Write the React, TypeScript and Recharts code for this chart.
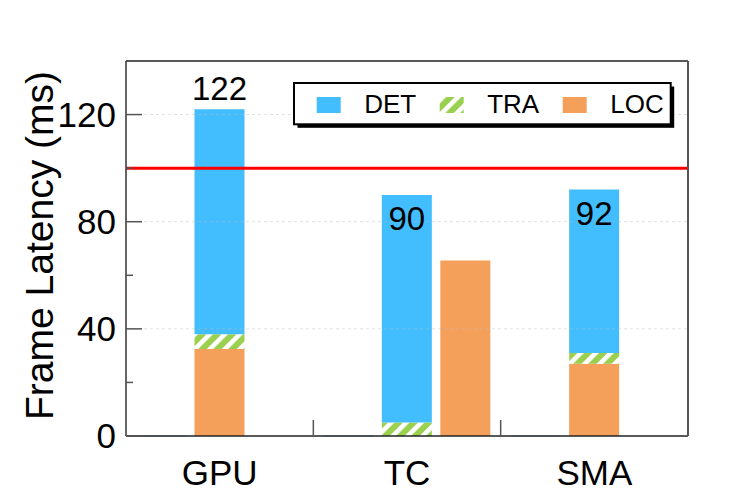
import React from 'react';
import { BarChart, Bar, XAxis, YAxis, ReferenceLine, Legend, LabelList } from 'recharts';

// values
const CATEGORIES = ['GPU', 'TC', 'SMA'];
const DET_SIDE = [0, 0, 0];
const LOC_STACK = [32.5, 0, 27];
const TRA_STACK = [5.5, 5, 4];
const DET_STACK = [84, 85, 61];
const LOC_SIDE = [0, 65.5, 0];
const TOTALS = [122, 90, 92];
const Y_TICKS = [0, 20, 40, 60, 80, 100, 120, 140];
const Y_LABELED = [0, 40, 80, 120];
const GRID_VALUES = [40, 80, 120];
const DEADLINE = 100;
const LEGEND_ITEMS = ['DET', 'TRA', 'LOC'];

// styling only
const LABEL_INSIDE = [false, true, true];
const DET_COLOR = '#42BEFF';
const TRA_COLOR = '#9BCF4F';
const LOC_COLOR = '#F4A05B';
const FONT = '"Liberation Sans", Arial, Helvetica, sans-serif';

const W = 739;
const H = 490;
const Y_AXIS_W = 118;
const X_AXIS_H = 62;
const MARGIN = { top: 52, right: 58, bottom: 0, left: 0 };
const PLOT_W = W - MARGIN.left - Y_AXIS_W - MARGIN.right - 1;
const BAND = PLOT_W / CATEGORIES.length;
const Y_TICK_MARGIN = 10;
const X_TICK_MARGIN = 24;

const data = CATEGORIES.map((name, i) => ({
  name,
  detSide: DET_SIDE[i],
  loc: LOC_STACK[i],
  tra: TRA_STACK[i],
  det: DET_STACK[i],
  locSide: LOC_SIDE[i],
  total: TOTALS[i],
}));

const Hatch = ({ id }: { id: string }) => (
  <pattern id={id} patternUnits="userSpaceOnUse" width={10.6} height={10.6} patternTransform="rotate(45)">
    <rect width={10.6} height={10.6} fill={TRA_COLOR} />
    <rect width={4.6} height={10.6} fill="#fff" />
  </pattern>
);

const YTick = ({ x, y, payload }: any) => {
  const v = payload.value;
  if (v === 140) return <g />;
  const major = Y_LABELED.includes(v);
  const x0 = x + Y_TICK_MARGIN;
  return (
    <g>
      <line x1={x0} x2={x0 + (major ? 16 : 7)} y1={y} y2={y} stroke="#555" strokeWidth={1.5} />
      {major && (
        <text x={x} y={y} dy="0.355em" textAnchor="end" fontSize={35} fill="#000" fontFamily={FONT}>
          {v}
        </text>
      )}
    </g>
  );
};

const XTick = ({ x, y, payload }: any) => {
  const i = CATEGORIES.indexOf(payload.value);
  const base = y - X_TICK_MARGIN;
  return (
    <g>
      {i < CATEGORIES.length - 1 && (
        <line x1={x + BAND / 2} x2={x + BAND / 2} y1={base} y2={base - 16} stroke="#555" strokeWidth={1.5} />
      )}
      <text x={x} y={y} dy="0.71em" textAnchor="middle" fontSize={35} fill="#000" fontFamily={FONT}>
        {payload.value}
      </text>
    </g>
  );
};

const YLabel = (props: any) => {
  const vb = props.viewBox || props;
  const cx = vb.x + 31;
  const cy = vb.y + vb.height / 2 - 3;
  return (
    <text x={cx} y={cy} dy="0.355em" textAnchor="middle" transform={`rotate(-90 ${cx} ${cy})`}
      fontSize={39} fill="#000" fontFamily={FONT}>
      Frame Latency (ms)
    </text>
  );
};

const TotalLabel = (props: any) => {
  const vb = props.viewBox || props;
  const { x, y, width } = vb;
  const inside = LABEL_INSIDE[props.index];
  const ty = inside ? y + 11 + 24 : y - 9.5;
  return (
    <text x={x + width / 2} y={ty} textAnchor="middle" fontSize={33} fill="#000" fontFamily={FONT}>
      {props.value}
    </text>
  );
};

const BaselineShape = (props: any) => {
  const { x, y, width, height } = props;
  const yb = y + (height || 0);
  return <line x1={x} x2={x + width} y1={yb} y2={yb} stroke="#8FCBE8" strokeWidth={1.2} />;
};

const FILLS: Record<string, string> = { DET: DET_COLOR, TRA: 'url(#traHatchLegend)', LOC: LOC_COLOR };

const LegendBox = () => (
  <svg width={384} height={48} style={{ overflow: 'visible', display: 'block' }}>
    <defs>
      <Hatch id="traHatchLegend" />
    </defs>
    <rect x={4.5} y={4.5} width={376.7} height={41.3} fill="#000" />
    <rect x={1} y={1} width={376.7} height={41.3} fill="#fff" stroke="#000" strokeWidth={2} />
    {LEGEND_ITEMS.map((name, i) => (
      <g key={name} transform={`translate(${23.7 + i * 123}, 0)`}>
        <rect x={0} y={15} width={24} height={16} fill={FILLS[name]} />
        <text x={47.5} y={31} fontSize={26} fill="#000" fontFamily={FONT}>
          {name}
        </text>
      </g>
    ))}
  </svg>
);

export default function App() {
  return (
    <div style={{ width: W, height: H, fontFamily: FONT, background: '#fff' }}>
      <BarChart width={W} height={H} data={data} margin={MARGIN} barCategoryGap={10} barGap={8.5}>
        <defs>
          <Hatch id="traHatch" />
        </defs>
        <XAxis dataKey="name" height={X_AXIS_H} interval={0} tickSize={0} tickLine={false}
          tickMargin={X_TICK_MARGIN} tick={<XTick />} axisLine={{ stroke: '#222', strokeWidth: 1.5 }} />
        <XAxis xAxisId="top" dataKey="name" orientation="top" height={1} tick={false} tickLine={false}
          axisLine={{ stroke: '#222', strokeWidth: 1.5 }} />
        <YAxis width={Y_AXIS_W} domain={[0, 140]} ticks={Y_TICKS} interval={0} tickSize={0} tickLine={false}
          tickMargin={Y_TICK_MARGIN} tick={<YTick />} axisLine={{ stroke: '#333', strokeWidth: 1.5 }}
          label={YLabel} />
        <YAxis yAxisId="right" orientation="right" width={1} domain={[0, 140]} tick={false} tickLine={false}
          axisLine={{ stroke: '#555', strokeWidth: 2 }} />
        <Bar dataKey="detSide" stackId="side" fill={DET_COLOR} shape={BaselineShape} isAnimationActive={false} />
        <Bar dataKey="loc" stackId="main" fill={LOC_COLOR} isAnimationActive={false} />
        <Bar dataKey="tra" stackId="main" fill="url(#traHatch)" isAnimationActive={false} />
        <Bar dataKey="det" stackId="main" fill={DET_COLOR} isAnimationActive={false}>
          <LabelList dataKey="total" content={TotalLabel} />
        </Bar>
        <Bar dataKey="locSide" stackId="locSide" fill={LOC_COLOR} isAnimationActive={false} />
        {GRID_VALUES.map((v) => (
          <ReferenceLine key={v} y={v} stroke="#bbb" strokeOpacity={0.45} strokeDasharray="3 3" />
        ))}
        <ReferenceLine y={DEADLINE} stroke="#ff0000" strokeWidth={3} />
        <Legend layout="horizontal" verticalAlign="middle" align="center" content={<LegendBox />}
          wrapperStyle={{ position: 'absolute', left: 285, top: 73.7, width: 384, height: 48 }} />
      </BarChart>
    </div>
  );
}
